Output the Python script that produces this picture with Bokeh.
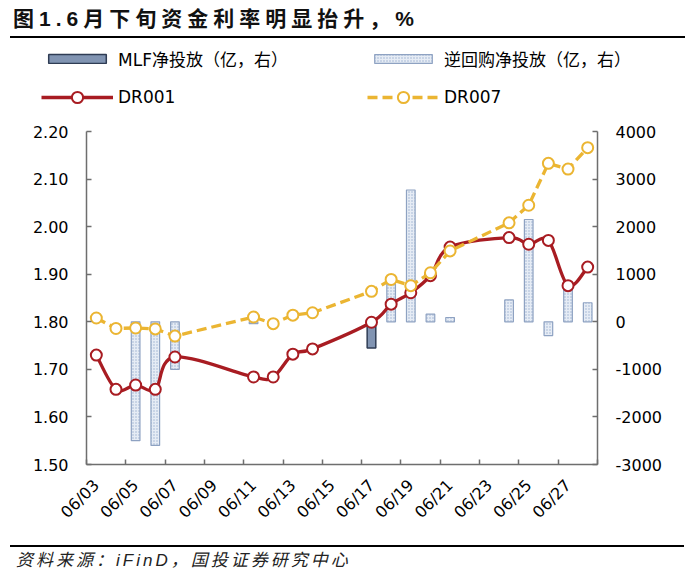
import numpy as np
from math import pi
from bokeh.plotting import figure
from bokeh.models import (Range1d, LinearAxis, FixedTicker, NumeralTickFormatter,
                          Legend, LegendItem, Div, ColumnDataSource)
from bokeh.layouts import column, row
from bokeh.embed import file_html
from bokeh.resources import INLINE

# ---------------- data ----------------
dates = ["06/03", "06/04", "06/05", "06/06", "06/07", "06/11", "06/12", "06/13", "06/14",
         "06/17", "06/18", "06/19", "06/20", "06/21", "06/24", "06/25", "06/26", "06/27", "06/28"]
dr001 = [1.730, 1.658, 1.667, 1.658, 1.726, 1.684, 1.684, 1.732, 1.743,
         1.799, 1.837, 1.861, 1.897, 1.957, 1.977, 1.963, 1.971, 1.876, 1.915]
dr007 = [1.808, 1.786, 1.787, 1.785, 1.770, 1.810, 1.796, 1.814, 1.819,
         1.864, 1.889, 1.876, 1.903, 1.949, 2.008, 2.045, 2.133, 2.121, 2.166]
mlf_net = [0, 0, 0, 0, 0, 0, 0, 0, 0,
           -550, 0, 0, 0, 0, 0, 0, 0, 0, 0]
rr_net = [0, 0, -2500, -2600, -1000, -40, 0, 0, 0,
          0, 800, 2770, 160, 90, 460, 2150, -290, 700, 400]
tick_labels = ["06/03", "06/05", "06/07", "06/09", "06/11", "06/13", "06/15",
               "06/17", "06/19", "06/21", "06/23", "06/25", "06/27"]
left_ticks = [1.50, 1.60, 1.70, 1.80, 1.90, 2.00, 2.10, 2.20]
right_ticks = [-3000, -2000, -1000, 0, 1000, 2000, 3000, 4000]
series_names = ["MLF净投放（亿，右）", "逆回购净投放（亿，右）", "DR001", "DR007"]

TITLE = "图1.6月下旬资金利率明显抬升，%"
SOURCE = "资料来源：iFinD，国投证券研究中心"

# ---------------- styling ----------------
FONT = "DejaVu Sans, Noto Sans CJK SC"
AXIS_COLOR = "#6E6E6E"
RED = "#A81C22"
GOLD = "#EBB532"
RR_STYLE = dict(fill_color="#E6ECF5", line_color="#8EA2C2", line_width=1.2,
                hatch_pattern="dot", hatch_color="#9AAED0", hatch_scale=3, hatch_weight=1)
MLF_STYLE = dict(fill_color="#8194B2", line_color="#2F3C54", line_width=1.5)
D1_LINE = dict(line_color=RED, line_width=3.3)
D7_LINE = dict(line_color=GOLD, line_width=3.3, line_dash="10 5")
D1_PT = dict(size=11, marker="circle", fill_color="white", line_color=RED, line_width=2)
D7_PT = dict(size=11, marker="circle", fill_color="white", line_color=GOLD, line_width=2)

day = lambda s: int(s[3:])
xs = np.array([day(d) for d in dates], dtype=float)

# ---------------- main chart ----------------
p = figure(width=682, height=424, output_backend="svg", toolbar_location=None,
           title=None, x_range=Range1d(2.5, 28.5), y_range=Range1d(1.5, 2.2),
           min_border_left=78, min_border_right=93, min_border_top=10,
           min_border_bottom=81, margin=0)
p.extra_y_ranges = {"amt": Range1d(-3000, 4000)}
p.outline_line_color = None
p.xgrid.visible = False
p.ygrid.visible = False

rr_idx = [i for i, v in enumerate(rr_net) if v != 0]
rr_src = ColumnDataSource(dict(x=xs[rr_idx], top=[rr_net[i] for i in rr_idx]))
p.vbar(x="x", top="top", bottom=0, width=0.44, source=rr_src, y_range_name="amt", **RR_STYLE)
mlf_idx = [i for i, v in enumerate(mlf_net) if v != 0]
mlf_src = ColumnDataSource(dict(x=xs[mlf_idx], top=[mlf_net[i] for i in mlf_idx]))
p.vbar(x="x", top="top", bottom=0, width=0.44, source=mlf_src, y_range_name="amt", **MLF_STYLE)

# DR001: smoothed line (Bezier segments through the data points)
ys = np.array(dr001)
xp = np.r_[xs[0], xs, xs[-1]]
yp = np.r_[ys[0], ys, ys[-1]]
n = len(xs)
bz = ColumnDataSource(dict(
    x0=xs[:-1], y0=ys[:-1], x1=xs[1:], y1=ys[1:],
    cx0=xs[:-1] + (xp[2:n + 1] - xp[0:n - 1]) / 6.0,
    cy0=ys[:-1] + (yp[2:n + 1] - yp[0:n - 1]) / 6.0,
    cx1=xs[1:] - (xp[3:n + 2] - xp[1:n]) / 6.0,
    cy1=ys[1:] - (yp[3:n + 2] - yp[1:n]) / 6.0))
p.bezier(x0="x0", y0="y0", x1="x1", y1="y1", cx0="cx0", cy0="cy0",
         cx1="cx1", cy1="cy1", source=bz, line_cap="round", **D1_LINE)
p.scatter(xs, dr001, **D1_PT)
p.line(xs, dr007, **D7_LINE)
p.scatter(xs, dr007, **D7_PT)

def style_axis(ax):
    ax.axis_line_color = AXIS_COLOR
    ax.axis_line_width = 1.5
    ax.major_tick_line_color = AXIS_COLOR
    ax.major_tick_line_width = 1.5
    ax.major_tick_in = 5
    ax.major_tick_out = 0
    ax.minor_tick_line_color = None
    ax.major_label_text_font = FONT
    ax.major_label_text_font_size = "16px"
    ax.major_label_text_color = "#000000"

ly = p.yaxis[0]
style_axis(ly)
ly.ticker = FixedTicker(ticks=left_ticks)
ly.formatter = NumeralTickFormatter(format="0.00")
ly.major_label_standoff = 18

ry = LinearAxis(y_range_name="amt")
style_axis(ry)
ry.ticker = FixedTicker(ticks=right_ticks)
ry.formatter = NumeralTickFormatter(format="0")
ry.major_label_standoff = 18
p.add_layout(ry, "right")

xa = p.xaxis[0]
style_axis(xa)
tick_days = [day(s) for s in tick_labels]
xa.ticker = FixedTicker(ticks=tick_days,
                        minor_ticks=[d - 0.5 for d in tick_days] + [tick_days[-1] + 1.5])
xa.major_label_overrides = {d: s for d, s in zip(tick_days, tick_labels)}
xa.major_tick_line_color = None
xa.minor_tick_line_color = AXIS_COLOR
xa.minor_tick_line_width = 1.5
xa.minor_tick_in = 5
xa.minor_tick_out = 0
xa.major_label_orientation = pi / 4
xa.major_label_standoff = 18

# ---------------- legend strip (above the chart) ----------------
lg = figure(width=682, height=81, output_backend="svg", toolbar_location=None,
            title=None, x_range=Range1d(0, 1), y_range=Range1d(0, 1),
            x_axis_type=None, y_axis_type=None, min_border=0,
            min_border_left=0, min_border_right=0, min_border_top=0,
            min_border_bottom=0, margin=0)
lg.outline_line_color = None
lg.xgrid.visible = False
lg.ygrid.visible = False
# legend-only renderers (one undefined point, so nothing is drawn in the strip itself)
blank = lambda: ColumnDataSource(dict(x=[np.nan], y=[np.nan]))
lg_mlf = lg.vbar(x="x", top="y", width=0.1, source=blank(), **MLF_STYLE)
lg_rr = lg.vbar(x="x", top="y", width=0.1, source=blank(), **RR_STYLE)
lg_d1l = lg.line(x="x", y="y", source=blank(), **D1_LINE)
lg_d1p = lg.scatter(x="x", y="y", source=blank(), **D1_PT)
lg_d7l = lg.line(x="x", y="y", source=blank(), **D7_LINE)
lg_d7p = lg.scatter(x="x", y="y", source=blank(), **D7_PT)

LEG = dict(orientation="horizontal", border_line_color=None, background_fill_alpha=0,
           padding=0, margin=0, spacing=16, label_standoff=5, glyph_width=72,
           label_height=20, label_width=233, label_text_font=FONT,
           label_text_font_size="17px", label_text_color="#000000")
legend_bars = Legend(items=[
    LegendItem(label=series_names[0], renderers=[lg_mlf]),
    LegendItem(label=series_names[1], renderers=[lg_rr]),
], location=(33, 50), glyph_height=11, **LEG)
legend_lines = Legend(items=[
    LegendItem(label=series_names[2], renderers=[lg_d1l, lg_d1p]),
    LegendItem(label=series_names[3], renderers=[lg_d7l, lg_d7p]),
], location=(33, 10), glyph_height=28, **LEG)
lg.add_layout(legend_bars)
lg.add_layout(legend_lines)

# ---------------- title & source ----------------
title_div = Div(text=(
    '<div style="font-family:\'Liberation Sans\',\'Noto Sans CJK SC\',sans-serif;'
    'font-size:21px;font-weight:bold;color:#111;letter-spacing:5px;'
    'width:675px;height:30px;line-height:22px;margin-left:2px;padding-left:3px;'
    'border-bottom:2px solid #000;white-space:nowrap;">'
    + TITLE + '</div>'), width=682, height=32, margin=0)
source_div = Div(text=(
    '<div style="font-family:\'Liberation Sans\',\'Noto Sans CJK SC\',sans-serif;'
    'font-size:17px;font-style:italic;color:#222;letter-spacing:3px;'
    'width:674px;margin-left:2px;padding-left:6px;border-top:2px solid #000;'
    'padding-top:4px;line-height:20px;white-space:nowrap;">'
    + SOURCE + '</div>'), width=682, height=25, margin=0)

layout = column(title_div, row(lg, margin=0, spacing=0), p, source_div,
                spacing=0, margin=(8, 0, 0, 8))

open("out.html", "w").write(file_html(layout, INLINE))
